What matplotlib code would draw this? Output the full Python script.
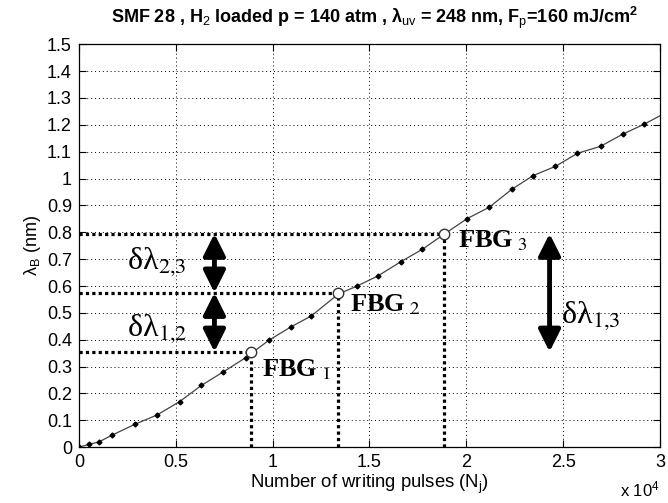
"""
Bragg wavelength shift vs number of writing pulses (SMF 28, H2 loaded).
"""

import matplotlib
matplotlib.use("Agg")
import matplotlib.pyplot as plt
from matplotlib.patches import FancyArrowPatch

# Measured curve (pulses in units of 1e4, wavelength shift in nm)
pulses = [0, 0.05, 0.105, 0.172, 0.289, 0.404, 0.521, 0.633, 0.745, 0.861,
          0.981, 1.093, 1.201, 1.339, 1.434, 1.545, 1.661, 1.774, 1.886,
          2.005, 2.118, 2.235, 2.345, 2.459, 2.574, 2.693, 2.807, 2.917, 3.03]
shift = [0, 0.01, 0.02, 0.045, 0.085, 0.12, 0.17, 0.23, 0.28, 0.333,
         0.398, 0.447, 0.489, 0.570, 0.599, 0.638, 0.690, 0.737, 0.793,
         0.851, 0.893, 0.960, 1.011, 1.045, 1.094, 1.120, 1.165, 1.202, 1.245]

# Written gratings
fbg_names = ["FBG$_{\\ 1}$", "FBG$_{\\ 2}$", "FBG$_{\\ 3}$"]
fbg_x = [0.888, 1.339, 1.886]
fbg_y = [0.355, 0.575, 0.795]

xticks = [0, 0.5, 1, 1.5, 2, 2.5, 3]
yticks = [0, 0.1, 0.2, 0.3, 0.4, 0.5, 0.6, 0.7, 0.8, 0.9, 1, 1.1, 1.2, 1.3, 1.4, 1.5]

sans = "Liberation Sans"
serif = "Liberation Serif"
plt.rcParams["font.family"] = sans
plt.rcParams["mathtext.fontset"] = "custom"
plt.rcParams["mathtext.rm"] = sans
plt.rcParams["mathtext.it"] = sans
plt.rcParams["mathtext.bf"] = sans + ":bold"

fig = plt.figure(figsize=(6.68, 5.03), dpi=100)
ax = fig.add_axes([0.118, 0.111, 0.870, 0.801])

# the curve with small dot markers
ax.plot(pulses, shift, color="#444444", lw=0.9, marker="D", ms=2.5,
        mfc="black", mec="black", zorder=3)

# FBG markers and the dotted reference lines
for x, y in zip(fbg_x, fbg_y):
    ax.plot([0, x], [y, y], color="black", ls=(0, (1, 1)), lw=2.3, zorder=2)
    ax.plot([x, x], [0, y], color="black", ls=(0, (1, 1)), lw=2.3, zorder=2)
ax.plot(fbg_x, fbg_y, ls="none", marker="o", ms=7.5, mfc="white",
        mec="#333333", mew=1.0, zorder=4)

# grating labels
label_dx = [0.06, 0.06, 0.07]
label_dy = [-0.065, -0.045, -0.025]
for name, x, y, dx, dy in zip(fbg_names, fbg_x, fbg_y, label_dx, label_dy):
    ax.text(x + dx, y + dy, name, family=serif, fontsize=19, fontweight="bold",
            va="center", ha="left", math_fontfamily="stix")


def double_arrow(x, y0, y1):
    arr = FancyArrowPatch((x, y0), (x, y1), arrowstyle="<|-|>",
                          mutation_scale=33, lw=3.5, color="black",
                          shrinkA=0, shrinkB=0, zorder=5)
    ax.add_patch(arr)


double_arrow(0.70, fbg_y[1], fbg_y[2])
double_arrow(0.70, fbg_y[0], fbg_y[1])
double_arrow(2.43, fbg_y[0], fbg_y[2])

ax.text(0.25, 0.69, "δλ$_{2{,}3}$", family=serif, fontsize=23,
        va="center", ha="left", math_fontfamily="stix")
ax.text(0.25, 0.44, "δλ$_{1{,}2}$", family=serif, fontsize=23,
        va="center", ha="left", math_fontfamily="stix")
ax.text(2.49, 0.49, "δλ$_{1{,}3}$", family=serif, fontsize=23,
        va="center", ha="left", math_fontfamily="stix")

ax.set_xlim(0, 3)
ax.set_ylim(0, 1.5)
ax.set_xticks(xticks)
ax.set_xticklabels(["0", "0.5", "1", "1.5", "2", "2.5", "3"])
ax.set_yticks(yticks)
ax.set_yticklabels(["0", "0.1", "0.2", "0.3", "0.4", "0.5", "0.6", "0.7",
                    "0.8", "0.9", "1", "1.1", "1.2", "1.3", "1.4", "1.5"])
ax.tick_params(direction="in", top=True, right=True, labelsize=13,
               length=5, width=0.8, colors="black", pad=5)
ax.grid(True, color="black", ls=(0, (1, 3)), lw=0.7)
for sp in ax.spines.values():
    sp.set_linewidth(0.9)

ax.set_xlabel("Number of writing pulses (N$_{j}$)", fontsize=13.3, labelpad=1)
ax.set_ylabel("λ$_{B}$ (nm)", fontsize=13, labelpad=3)
fig.text(0.988, 0.008, "x 10$^{4}$", fontsize=12, ha="right", va="bottom")

fig.suptitle("SMF 28 , H$_{2}$ loaded p = 140 atm , λ$_{uv}$ = 248 nm, "
             "F$_{p}$=160 mJ/cm$^{\\mathbf{2}}$",
             x=0.56, y=0.99, fontsize=13, fontweight="bold")

fig.savefig("out.png", dpi=100)
